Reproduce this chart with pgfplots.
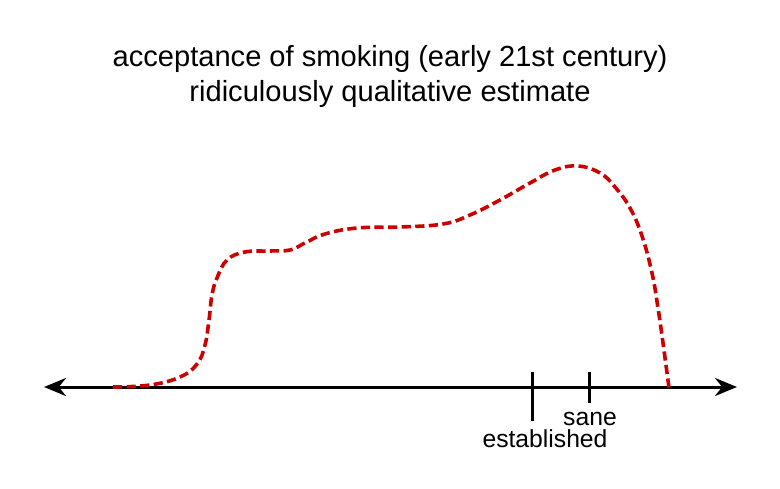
\documentclass[border=0pt]{standalone}
\usepackage{pgfplots}
\pgfplotsset{compat=1.18}
\usepackage{fontspec}
\setmainfont{Liberation Sans}
\usetikzlibrary{arrows.meta}
\definecolor{curvered}{RGB}{205,0,0}
\begin{document}
\begin{tikzpicture}
\begin{axis}[
  scale only axis, width=390pt, height=244pt,
  xmin=0, xmax=780, ymin=0, ymax=488,
  hide axis, clip=false,
]
\path (rel axis cs:0,0) rectangle (rel axis cs:1,1);
% horizontal axis with arrows
\addplot[black, line width=1.5pt, {Stealth[length=11pt,width=9pt]}-{Stealth[length=11pt,width=9pt]}]
  coordinates {(44,101) (737,101)};
% ticks
\addplot[black, line width=1.5pt] coordinates {(532,116.3) (532,67.3)};
\addplot[black, line width=1.5pt] coordinates {(589.5,116.3) (589.5,84.7)};
% curve
\addplot[curvered, line width=1.8pt, dash pattern=on 4.6pt off 2.2pt, smooth, tension=0.7]
  coordinates {
  (113,101) (150,103) (180,111) (197,124) (205,143) (209,168) (212,193)
  (217,210) (227,228) (245,236) (270,237) (290,238) (305,245) (325,254)
  (357,260) (400,261) (443,264) (470,273) (500,288) (530,305) (555,318)
  (578,322) (600,315) (615,301) (630,280) (642,252) (652,215) (658,180)
  (663,145) (669,100)
  };
\node[anchor=base, font=\fontsize{14.55}{17.5}\selectfont] at (axis cs:390,421) {acceptance of smoking (early 21st century)};
\node[anchor=base, font=\fontsize{14.55}{17.5}\selectfont] at (axis cs:390,386) {ridiculously qualitative estimate};
\node[anchor=base, font=\fontsize{12.35}{15}\selectfont] at (axis cs:590,63) {sane};
\node[anchor=base, font=\fontsize{12.35}{15}\selectfont] at (axis cs:545,40.7) {established};
\end{axis}
\end{tikzpicture}
\end{document}
